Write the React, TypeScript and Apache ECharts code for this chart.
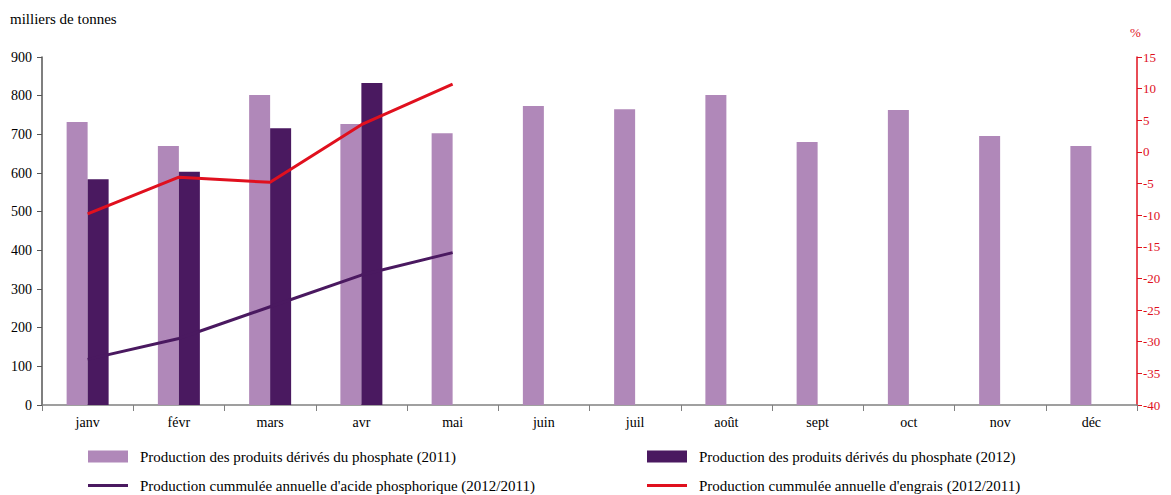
import React, { useEffect, useRef } from "react";
import * as echarts from "echarts";

const months = ["janv", "févr", "mars", "avr", "mai", "juin", "juil", "août", "sept", "oct", "nov", "déc"];
const prod2011 = [732, 670, 802, 727, 703, 773, 765, 802, 680, 763, 696, 670];
const prod2012 = [584, 603, 716, 833];
const acideCumul = [118, 172, 254, 336, 394];
const engraisPct = [-9.8, -4.0, -4.8, 4.3, 10.7];

const nameA = "Production des produits dérivés du phosphate (2011)";
const nameB = "Production des produits dérivés du phosphate (2012)";
const nameC = "Production cummulée annuelle d'acide phosphorique (2012/2011)";
const nameD = "Production cummulée annuelle d'engrais (2012/2011)";

const FONT = "'Liberation Serif', 'DejaVu Serif', serif";

function legendItem(name: string, left: number, top: number, isLine: boolean) {
  return {
    left, top, orient: "horizontal", itemWidth: 40, itemHeight: isLine ? 3 : 12,
    icon: "rect",
    textStyle: { fontFamily: FONT, fontSize: 15, color: "#000", padding: [0, 0, 0, 7] },
    data: [name],
    selectedMode: false,
  };
}

export default function App() {
  const ref = useRef<HTMLDivElement>(null);
  useEffect(() => {
    if (!ref.current) return;
    const chart = echarts.init(ref.current, undefined, { renderer: "svg" });
    chart.setOption({
      animation: false,
      backgroundColor: "#ffffff",
      textStyle: { fontFamily: FONT },
      grid: { left: 42, right: 34, top: 57, bottom: 90, containLabel: false },
      graphic: [
        { type: "text", left: 10, top: 11, style: { text: "milliers de tonnes", font: `15px ${FONT}`, fill: "#000" } },
        { type: "text", left: 1130, top: 26, style: { text: "%", font: `13px ${FONT}`, fill: "#e0101e" } },
      ],
      legend: [
        legendItem(nameA, 83, 444, false),
        legendItem(nameB, 642, 444, false),
        legendItem(nameC, 83, 473, true),
        legendItem(nameD, 642, 473, true),
      ],
      xAxis: {
        type: "category",
        data: months,
        axisLine: { lineStyle: { color: "#808080", width: 1.5 } },
        axisTick: { show: true, length: 6, lineStyle: { color: "#808080" } },
        axisLabel: { color: "#000", fontSize: 14, fontFamily: FONT, margin: 10 },
      },
      yAxis: [
        {
          type: "value", min: 0, max: 900, interval: 100,
          splitLine: { show: false },
          axisLine: { show: true, lineStyle: { color: "#555", width: 1.5 } },
          axisTick: { show: true, length: 5, lineStyle: { color: "#555" } },
          axisLabel: { color: "#000", fontSize: 14, fontFamily: FONT, margin: 10 },
        },
        {
          type: "value", min: -40, max: 15, interval: 5, position: "right",
          splitLine: { show: false },
          axisLine: { show: true, lineStyle: { color: "#e0101e", width: 1.5 } },
          axisTick: { show: true, length: 5, lineStyle: { color: "#e0101e" } },
          axisLabel: { color: "#e0101e", fontSize: 13, fontFamily: FONT, margin: 6 },
        },
      ],
      series: [
        { name: nameA, type: "bar", data: prod2011, barWidth: 21, barGap: "0%", itemStyle: { color: "#b088b9" } },
        { name: nameB, type: "bar", data: prod2012, barWidth: 21, barGap: "0%", itemStyle: { color: "#4a1960" } },
        { name: nameC, type: "line", data: acideCumul, symbol: "none", lineStyle: { color: "#4a1960", width: 3 }, itemStyle: { color: "#4a1960" } },
        { name: nameD, type: "line", yAxisIndex: 1, data: engraisPct, symbol: "none", lineStyle: { color: "#e0101e", width: 3 }, itemStyle: { color: "#e0101e" } },
      ],
    });
    return () => chart.dispose();
  }, []);
  return <div ref={ref} style={{ position: "absolute", left: 0, top: 0, width: 1171, height: 495 }} />;
}
